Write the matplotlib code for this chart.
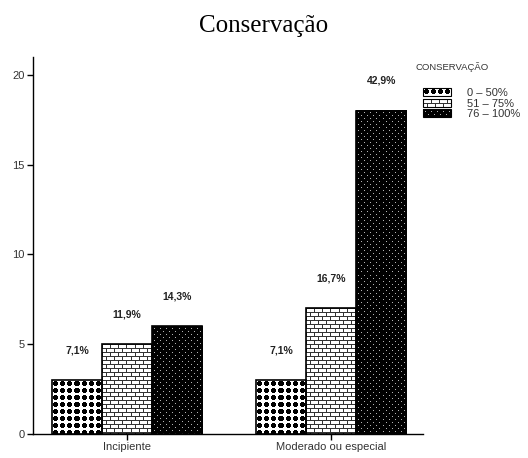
import numpy as np
import matplotlib
matplotlib.use('Agg')
import matplotlib.pyplot as plt
from matplotlib.legend_handler import HandlerBase
from matplotlib.image import BboxImage
from matplotlib.patches import Rectangle
from matplotlib.transforms import Bbox, TransformedBbox

# dados
categorias = ['Incipiente', 'Moderado ou especial']
grupos = ['0 – 50%', '51 – 75%', '76 – 100%']
valores = {
    '0 – 50%': [3, 3],
    '51 – 75%': [5, 7],
    '76 – 100%': [6, 18],
}
rotulos = {
    '0 – 50%': ['7,1%', '7,1%'],
    '51 – 75%': ['11,9%', '16,7%'],
    '76 – 100%': ['14,3%', '42,9%'],
}
texturas = ['losango', 'tijolo', 'pontos']

plt.rcParams['font.family'] = ['Liberation Sans', 'DejaVu Sans']


def textura(tipo, w, h):
    # gera a textura em pixels (0 = preto, 1 = branco)
    yy, xx = np.mgrid[0:h, 0:w]
    if tipo == 'losango':
        dx = (xx % 7) - 3
        dy = (yy % 7) - 3
        preto = (dx ** 2 + dy ** 2) <= 5.3
        return np.where(preto, 0.0, 1.0)
    elif tipo == 'tijolo':
        lin = yy % 8
        col = xx % 8
        preto = (lin % 4 == 0) | ((lin < 4) & (col == 0)) | ((lin >= 4) & (col == 4))
        return np.where(preto, 0.2, 1.0)
    else:
        ponto = ((xx % 6 == 2) & (yy % 6 == 2)) | ((xx % 6 == 5) & (yy % 6 == 5))
        return np.where(ponto, 0.7, 0.0)


class HandlerTextura(HandlerBase):
    def __init__(self, tipo):
        super().__init__()
        self.tipo = tipo

    def create_artists(self, legend, orig_handle, xdescent, ydescent,
                       width, height, fontsize, trans):
        bb = TransformedBbox(Bbox.from_bounds(-xdescent, -ydescent, width, height), trans)
        img = BboxImage(bb, cmap='gray', norm=plt.Normalize(0, 1), interpolation='nearest')
        img.set_data(textura(self.tipo, int(round(width * 100 / 72)), int(round(height * 100 / 72))))
        borda = Rectangle((-xdescent, -ydescent), width, height, facecolor='none',
                          edgecolor='black', lw=0.8, transform=trans)
        return [img, borda]


fig = plt.figure(figsize=(5.28, 4.58), dpi=100)
ax = fig.add_axes([33 / 528, 24 / 458, 390 / 528, 377 / 458])
ax.set_xlim(-0.46, 1.45)
ax.set_ylim(0, 21)

x = np.arange(len(categorias))
largura = 0.245
handles = []
for i, g in enumerate(grupos):
    pos = x + (i - 1) * largura
    barras = ax.bar(pos, valores[g], largura, facecolor='none', edgecolor='black',
                    lw=1.2, zorder=3)
    handles.append(Rectangle((0, 0), 1, 1, label=g))
    for b in barras:
        x0, y0 = b.get_x(), b.get_y()
        x1, y1 = x0 + b.get_width(), y0 + b.get_height()
        p0 = ax.transData.transform((x0, y0))
        p1 = ax.transData.transform((x1, y1))
        w = int(round(p1[0] - p0[0]))
        h = int(round(p1[1] - p0[1]))
        ax.imshow(textura(texturas[i], w, h), cmap='gray', vmin=0, vmax=1,
                  extent=[x0, x1, y0, y1], origin='upper', interpolation='nearest',
                  aspect='auto', zorder=2)
    for xp, v, r in zip(pos, valores[g], rotulos[g]):
        ax.annotate(r, (xp, v), xytext=(0, 21.6), textcoords='offset points',
                    ha='center', va='center', fontsize=7.5, fontweight='bold',
                    color='#222222')

ax.set_xlim(-0.46, 1.45)
ax.set_ylim(0, 21)
ax.set_yticks([0, 5, 10, 15, 20])
ax.set_xticks(x)
ax.set_xticklabels(categorias)
ax.tick_params(labelsize=8, length=4, width=1, pad=2, colors='black', labelcolor='#333333')
for s in ['top', 'right']:
    ax.spines[s].set_visible(False)
for s in ['left', 'bottom']:
    ax.spines[s].set_linewidth(1)

fig.text(0.5, 1 - 26 / 458, 'Conservação', ha='center', va='center',
         fontsize=18, family='Liberation Serif')

fig.text(415 / 528, 1 - 67 / 458, 'CONSERVAÇÃO', ha='left', va='center',
         fontsize=6.8, color='#333333')
leg = fig.legend(handles=handles, labels=grupos, loc='upper left',
                 bbox_to_anchor=(423 / 528, 1 - 88 / 458), frameon=False,
                 fontsize=8, handlelength=2.5, handleheight=0.7, labelspacing=0.05,
                 handletextpad=1.5, borderpad=0, borderaxespad=0,
                 handler_map={h: HandlerTextura(t) for h, t in zip(handles, texturas)})
for t in leg.get_texts():
    t.set_color('#333333')

fig.savefig('out.png', dpi=100)
